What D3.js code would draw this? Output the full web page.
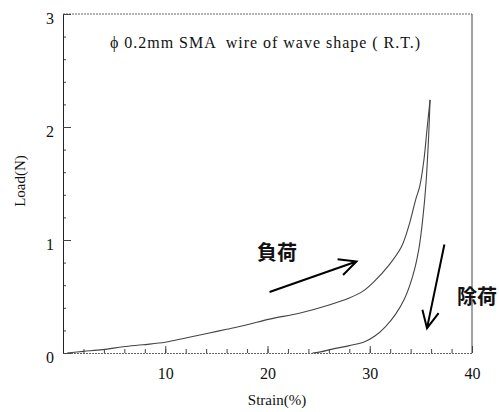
<!DOCTYPE html>
<html>
<head>
<meta charset="utf-8">
<script src="https://cdn.jsdelivr.net/npm/d3@7"></script>
<style>
  body { margin: 0; background: #fff; }
  svg { display: block; }
</style>
</head>
<body>
<svg id="chart"></svg>
<script>
// loading branch (strain %, load N)
const loadStrain = [0.4, 2.0, 3.9, 5.9, 7.8, 10.0, 12.1, 14.2, 16.0, 18.0, 20.2, 23.2, 26.1, 28.0, 29.3, 30.4, 31.9, 33.1, 33.9, 34.5, 34.9, 35.3, 35.6, 35.9];
const loadForce  = [0.0, 0.014, 0.03, 0.055, 0.073, 0.095, 0.135, 0.175, 0.21, 0.25, 0.30, 0.354, 0.427, 0.487, 0.545, 0.63, 0.78, 0.94, 1.15, 1.36, 1.48, 1.71, 1.98, 2.24];
// unloading branch
const unloadStrain = [24.4, 25.3, 26.1, 28.0, 29.5, 30.5, 31.5, 32.5, 33.4, 34.2, 34.8, 35.2, 35.5, 35.75, 35.9];
const unloadForce  = [0.0, 0.012, 0.03, 0.065, 0.10, 0.15, 0.23, 0.34, 0.48, 0.68, 0.92, 1.2, 1.5, 1.9, 2.24];

const xMajor = [10, 20, 30, 40];
const yMajor = [0, 1, 2, 3];
const titleText = "\u03d5 0.2mm SMA  wire of wave shape ( R.T.)";

const W = 499, H = 412;
const svg = d3.select("#chart").attr("width", W).attr("height", H);

const x = d3.scaleLinear().domain([0, 40]).range([63, 472]);
const y = d3.scaleLinear().domain([0, 3]).range([353, 14]);

const serif = "Liberation Serif, Times New Roman, serif";
const cjk = "Noto Sans CJK JP, sans-serif";

// frame
svg.append("line").attr("x1", x(0)).attr("x2", x(40)).attr("y1", y(3)).attr("y2", y(3))
    .attr("stroke", "#666").attr("stroke-dasharray", "2,1");
svg.append("line").attr("x1", x(40)).attr("x2", x(40)).attr("y1", y(3)).attr("y2", y(0))
    .attr("stroke", "#444");

// x axis: minor ticks every 2, major every 10, all pointing inward
const xMinor = d3.range(2, 40, 2);
const gx = svg.append("g").attr("transform", `translate(0,${y(0)})`);
gx.call(d3.axisBottom(x).tickValues(xMinor).tickSize(-4).tickFormat(""));
gx.call(g => g.append("g").call(d3.axisBottom(x).tickValues(xMajor).tickSize(-7).tickPadding(15).tickFormat(d3.format("d"))));
gx.selectAll(".domain").attr("stroke", "#666").attr("stroke-dasharray", "2,1");
gx.selectAll(".tick line").attr("stroke", "#444");
gx.selectAll("g").attr("font-family", serif);
gx.selectAll("text").attr("font-family", serif).attr("font-size", 16).attr("fill", "#111");

// y axis
const yMinor = d3.range(0.2, 3, 0.2).filter(v => Math.abs(v - Math.round(v)) > 0.01);
const gy = svg.append("g").attr("transform", `translate(${x(0)},0)`);
gy.call(d3.axisLeft(y).tickValues(yMinor).tickSize(-3).tickFormat(""));
gy.call(g => g.append("g").call(d3.axisLeft(y).tickValues(yMajor).tickSize(-8).tickPadding(9).tickFormat(d3.format("d"))));
gy.selectAll(".domain").attr("stroke", "#222");
gy.selectAll(".tick line").attr("stroke", "#444");
gy.selectAll("g").attr("font-family", serif);
gy.selectAll("text").attr("font-family", serif).attr("font-size", 16).attr("fill", "#111").attr("dy", "0.6em");

// axis titles
svg.append("text").attr("x", 277).attr("y", 405).attr("text-anchor", "middle")
    .attr("font-family", serif).attr("font-size", 15).attr("fill", "#111").text("Strain(%)");
svg.append("text").attr("transform", "translate(25,181) rotate(-90)").attr("text-anchor", "middle")
    .attr("font-family", serif).attr("font-size", 15).attr("fill", "#111").text("Load(N)");

// title
svg.append("text").attr("x", 110).attr("y", 48)
    .attr("font-family", serif).attr("font-size", 16).attr("fill", "#111")
    .attr("textLength", 310).attr("lengthAdjust", "spacing")
    .style("white-space", "pre").text(titleText);

// curves
const line = d3.line().x(d => x(d[0])).y(d => y(d[1])).curve(d3.curveCatmullRom.alpha(0.5));
const loadPts = d3.zip(loadStrain, loadForce);
const unloadPts = d3.zip(unloadStrain, unloadForce);
[loadPts, unloadPts].forEach(pts => {
    svg.append("path").datum(pts).attr("d", line)
        .attr("fill", "none").attr("stroke", "#444").attr("stroke-width", 1.1);
});

// annotations (positions in data units)
function arrow(from, to) {
    const x1 = x(from[0]), y1 = y(from[1]), x2 = x(to[0]), y2 = y(to[1]);
    const a = Math.atan2(y2 - y1, x2 - x1);
    const len = 19, spread = 0.45;
    const p = d3.path();
    p.moveTo(x1, y1); p.lineTo(x2, y2);
    p.moveTo(x2 - len * Math.cos(a - spread), y2 - len * Math.sin(a - spread));
    p.lineTo(x2, y2);
    p.lineTo(x2 - len * Math.cos(a + spread), y2 - len * Math.sin(a + spread));
    svg.append("path").attr("d", p.toString()).attr("fill", "none")
        .attr("stroke", "#000").attr("stroke-width", 2);
}
arrow([20.2, 0.54], [28.7, 0.81]);
arrow([37.3, 0.96], [35.6, 0.22]);

svg.append("text").attr("x", 257).attr("y", 260)
    .attr("font-family", cjk).attr("font-size", 20).attr("font-weight", "bold").attr("fill", "#111").text("負荷");
svg.append("text").attr("x", 457).attr("y", 304)
    .attr("font-family", cjk).attr("font-size", 20).attr("font-weight", "bold").attr("fill", "#111").text("除荷");
</script>
</body>
</html>
